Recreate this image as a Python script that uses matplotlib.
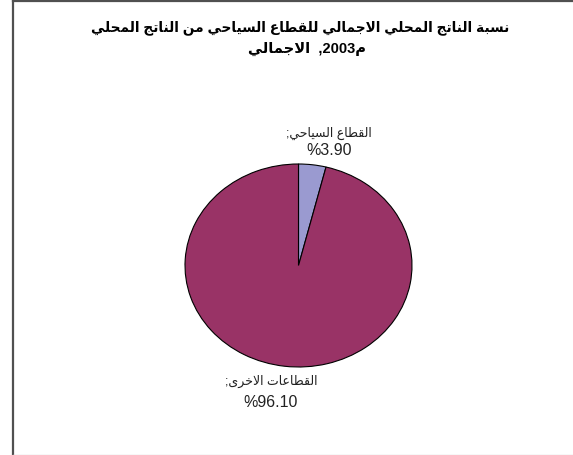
import matplotlib
matplotlib.use("Agg")
import matplotlib.pyplot as plt
from matplotlib.lines import Line2D

# Share of tourism in GDP, 2003
sectors = ["القطاع السياحي", "القطاعات الاخرى"]
shares = [3.90, 96.10]
colors = ["#9a9ad0", "#993366"]
title_line1 = "نسبة الناتج المحلي الاجمالي للقطاع السياحي من الناتج المحلي"
title_word = "الاجمالي"
title_year = "2003"
title_suffix = "م"

# contextual forms: isolated, final, initial, medial
FORMS = {
    "ا": (0xFE8D, 0xFE8E, None, None),
    "ب": (0xFE8F, 0xFE90, 0xFE91, 0xFE92),
    "ة": (0xFE93, 0xFE94, None, None),
    "ت": (0xFE95, 0xFE96, 0xFE97, 0xFE98),
    "ج": (0xFE9D, 0xFE9E, 0xFE9F, 0xFEA0),
    "ح": (0xFEA1, 0xFEA2, 0xFEA3, 0xFEA4),
    "خ": (0xFEA5, 0xFEA6, 0xFEA7, 0xFEA8),
    "ر": (0xFEAD, 0xFEAE, None, None),
    "س": (0xFEB1, 0xFEB2, 0xFEB3, 0xFEB4),
    "ط": (0xFEC1, 0xFEC2, 0xFEC3, 0xFEC4),
    "ع": (0xFEC9, 0xFECA, 0xFECB, 0xFECC),
    "ق": (0xFED5, 0xFED6, 0xFED7, 0xFED8),
    "ل": (0xFEDD, 0xFEDE, 0xFEDF, 0xFEE0),
    "م": (0xFEE1, 0xFEE2, 0xFEE3, 0xFEE4),
    "ن": (0xFEE5, 0xFEE6, 0xFEE7, 0xFEE8),
    "ى": (0xFEEF, 0xFEF0, None, None),
    "ي": (0xFEF1, 0xFEF2, 0xFEF3, 0xFEF4),
    "لا": (0xFEFB, 0xFEFC, None, None),
}


def ar(text):
    """join arabic letters and put them in display order"""
    toks = []
    i = 0
    while i < len(text):
        if text[i] == "ل" and i + 1 < len(text) and text[i + 1] == "ا":
            toks.append("لا")
            i += 2
        else:
            toks.append(text[i])
            i += 1
    out = []
    for j, t in enumerate(toks):
        if t not in FORMS:
            out.append(t)
            continue
        prev = toks[j - 1] if j > 0 else None
        nxt = toks[j + 1] if j + 1 < len(toks) else None
        jp = prev in FORMS and FORMS[prev][2] is not None
        jn = FORMS[t][2] is not None and nxt in FORMS
        f = FORMS[t]
        if jp and jn:
            code = f[3]
        elif jp:
            code = f[1]
        elif jn:
            code = f[2]
        else:
            code = f[0]
        out.append(chr(code))
    return "".join(reversed(out))


fig = plt.figure(figsize=(5.73, 4.56), dpi=100)
W, H = 573, 456

ax = fig.add_axes([0, 0, 1, 1])
ax.pie(shares, colors=colors, startangle=90, counterclock=False,
       wedgeprops={"edgecolor": "black", "linewidth": 0.8})
# stretch the pie a little wider than tall
cx, cy, rx, ry = 298.5, 266.5, 113.5, 101.5
ax.set_aspect("auto")
ax.set_xlim(-cx / rx, (W - cx) / rx)
ax.set_ylim(-(H - cy) / ry, cy / ry)
ax.axis("off")

fam = ["Liberation Sans", "DejaVu Sans"]

fig.text(300 / W, 1 - 28 / H, ar(title_line1), ha="center", va="center",
         fontsize=9.9, fontweight="bold", family=fam)
fig.text(307 / W, 1 - 49 / H, ar(title_word) + "  ," + title_year + ar(title_suffix),
         ha="center", va="center", fontsize=10.5, fontweight="bold", family=fam)

label_pos = [(329, 133, 151), (271, 381, 403)]
for name, val, (x, y1, y2) in zip(sectors, shares, label_pos):
    fig.text(x / W, 1 - y1 / H, ar(name + ";"), ha="center", va="center",
             fontsize=9, family=fam, color="#222222")
    fig.text(x / W, 1 - y2 / H, "%{:.2f}".format(val), ha="center", va="center",
             fontsize=11.5, family=fam, color="#222222")

# chart area frame
fig.add_artist(Line2D([12.5 / W, 12.5 / W], [0, 1], color="#505050", lw=1.6))
fig.add_artist(Line2D([12.5 / W, 1], [1 - 1.5 / H, 1 - 1.5 / H], color="#505050", lw=1.6))
fig.add_artist(Line2D([12.5 / W, 1], [0.5 / H, 0.5 / H], color="#d8d8d8", lw=1))

plt.savefig("out.png", dpi=100)
